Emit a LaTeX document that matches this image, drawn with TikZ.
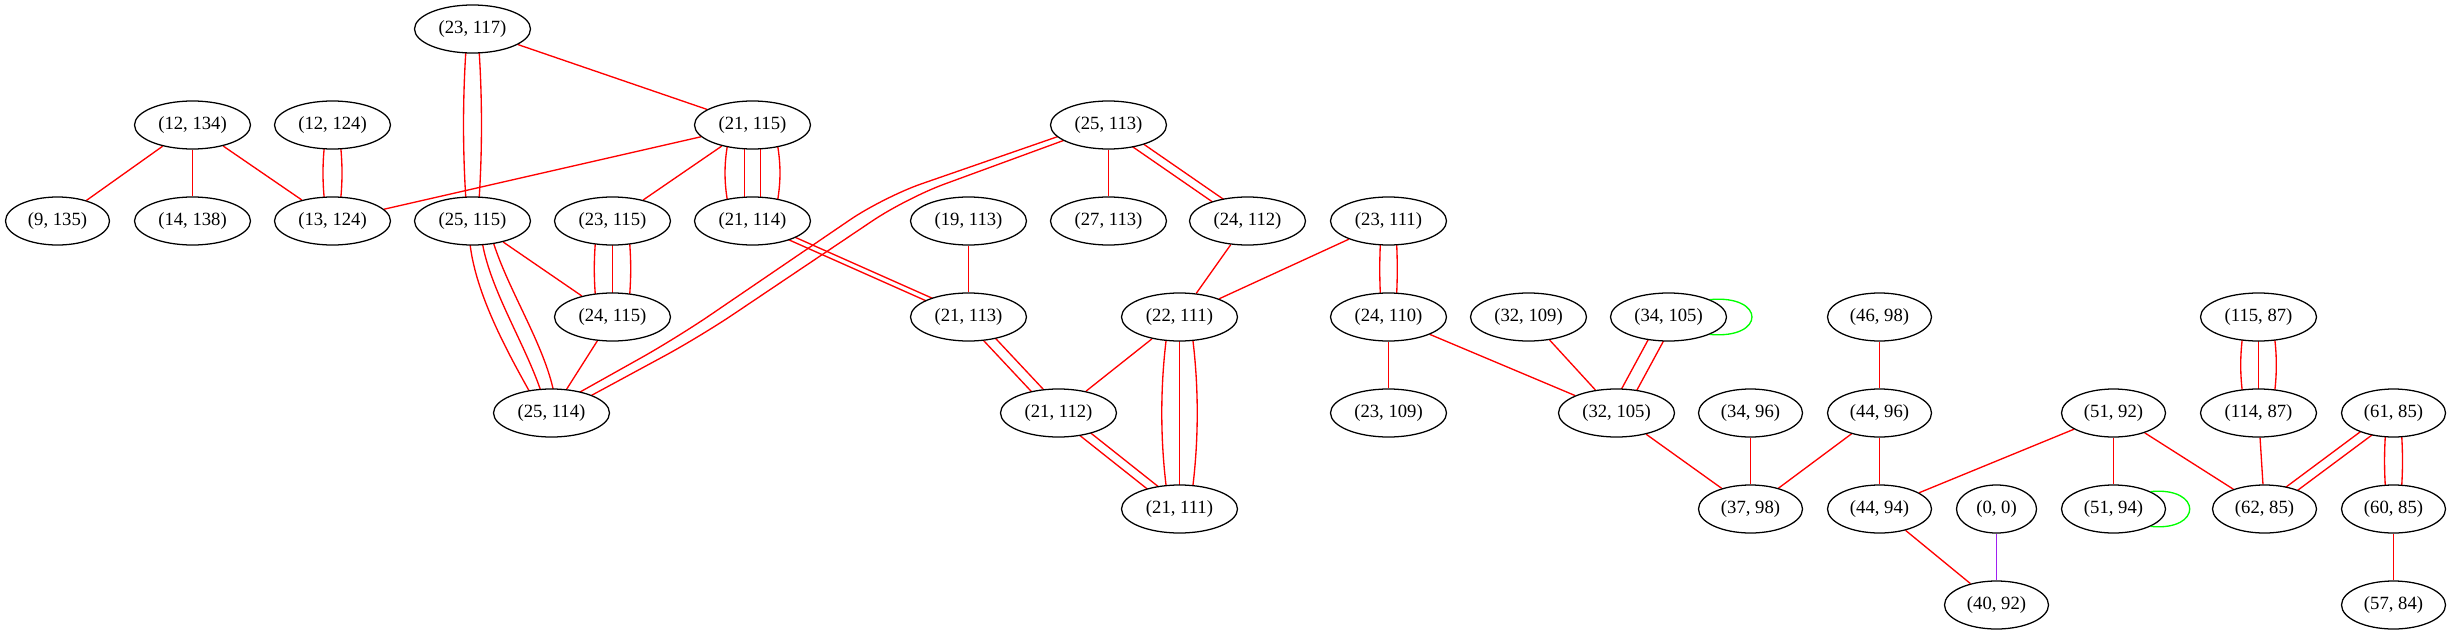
\documentclass[tikz,border=0pt]{standalone}
\usepackage{fontspec}
\setmainfont{Liberation Serif}
\usetikzlibrary{shapes.geometric,calc,backgrounds}
\definecolor{gvred}{RGB}{255,0,0}
\definecolor{gvgreen}{RGB}{0,255,0}
\definecolor{gvpurple}{RGB}{160,32,240}
\tikzset{
  gn/.style={ellipse, draw=black, fill=white, line width=0.95pt, inner sep=0pt,
    minimum height=36pt, minimum width=87pt, font=\fontsize{14pt}{16pt}\selectfont},
  gm/.style={gn, minimum width=78pt},
  gsm/.style={gn, minimum width=60pt},
  redge/.style={draw=gvred, line width=1pt},
  gedge/.style={draw=gvgreen, line width=1pt},
  pedge/.style={draw=gvpurple, line width=1pt},
}
\begin{document}
\begin{tikzpicture}[x=0.75pt,y=-0.75pt]
\useasboundingbox (0,0) rectangle (2451,635);
\begin{scope}[on background layer]
\fill[white] (0,0) rectangle (2451,635);
\end{scope}
\begin{scope}[shift={(0.5,0)}]
% row 1
\node[gn] (n23117) at (472,29) {(23, 117)};
% row 2
\node[gn] (n12134) at (192,125) {(12, 134)};
\node[gn] (n12124) at (332,125) {(12, 124)};
\node[gn] (n21115) at (752,125) {(21, 115)};
\node[gn] (n25113) at (1108,125) {(25, 113)};
% row 3
\node[gm] (n9135) at (57,221) {(9, 135)};
\node[gn] (n14138) at (192,221) {(14, 138)};
\node[gn] (n13124) at (332,221) {(13, 124)};
\node[gn] (n25115) at (472,221) {(25, 115)};
\node[gn] (n23115) at (612,221) {(23, 115)};
\node[gn] (n21114) at (752,221) {(21, 114)};
\node[gn] (n19113) at (968,221) {(19, 113)};
\node[gn] (n27113) at (1108,221) {(27, 113)};
\node[gn] (n24112) at (1247,221) {(24, 112)};
\node[gn] (n23111) at (1388,221) {(23, 111)};
% row 4
\node[gn] (n24115) at (612,317) {(24, 115)};
\node[gn] (n21113) at (968,317) {(21, 113)};
\node[gn] (n22111) at (1179,317) {(22, 111)};
\node[gn] (n24110) at (1388,317) {(24, 110)};
\node[gn] (n32109) at (1528,317) {(32, 109)};
\node[gn] (n34105) at (1668,317) {(34, 105)};
\node[gm] (n4698) at (1879,317) {(46, 98)};
\node[gn] (n11587) at (2258,317) {(115, 87)};
% row 5
\node[gn] (n25114) at (551,413) {(25, 114)};
\node[gn] (n21112) at (1058,413) {(21, 112)};
\node[gn] (n23109) at (1388,413) {(23, 109)};
\node[gn] (n32105) at (1616,413) {(32, 105)};
\node[gm] (n3496) at (1750,413) {(34, 96)};
\node[gm] (n4496) at (1879,413) {(44, 96)};
\node[gm] (n5192) at (2113,413) {(51, 92)};
\node[gn] (n11487) at (2258,413) {(114, 87)};
\node[gm] (n6185) at (2393,413) {(61, 85)};
% row 6
\node[gn] (n21111) at (1179,509) {(21, 111)};
\node[gm] (n3798) at (1750,509) {(37, 98)};
\node[gm] (n4494) at (1879,509) {(44, 94)};
\node[gsm] (n00) at (1996,509) {(0, 0)};
\node[gm] (n5194) at (2113,509) {(51, 94)};
\node[gm] (n6285) at (2264,509) {(62, 85)};
\node[gm] (n6085) at (2393,509) {(60, 85)};
% row 7
\node[gm] (n4092) at (1996,605) {(40, 92)};
\node[gm] (n5784) at (2393,605) {(57, 84)};

\begin{scope}[on background layer]
% single edges
\draw[redge] (n23117) -- (n21115);
\draw[redge] (n12134) -- (n9135);
\draw[redge] (n12134) -- (n14138);
\draw[redge] (n12134) -- (n13124);
\draw[redge] (n21115) -- (n13124);
\draw[redge] (n21115) -- (n23115);
\draw[redge] (n25115) -- (n24115);
\draw[redge] (n24115) -- (n25114);
\draw[redge] (n25113) -- (n27113);
\draw[redge] (n19113) -- (n21113);
\draw[redge] (n24112) -- (n22111);
\draw[redge] (n23111) -- (n22111);
\draw[redge] (n22111) -- (n21112);
\draw[redge] (n24110) -- (n23109);
\draw[redge] (n24110) -- (n32105);
\draw[redge] (n32109) -- (n32105);
\draw[redge] (n4698) -- (n4496);
\draw[redge] (n32105) -- (n3798);
\draw[redge] (n3496) -- (n3798);
\draw[redge] (n4496) -- (n3798);
\draw[redge] (n4496) -- (n4494);
\draw[redge] (n4494) -- (n4092);
\draw[pedge] (n00) -- (n4092);
\draw[redge] (n5192) -- (n4494);
\draw[redge] (n5192) -- (n5194);
\draw[redge] (n5192) -- (n6285);
\draw[redge] (n11487) -- (n6285);
\draw[redge] (n6085) -- (n5784);
% (23,117) -- (25,115) double
\draw[redge] ($(n23117)+(-6.5,20)$) .. controls +(-3.3,50) and +(-3.3,-50) .. ($(n25115)+(-6.5,-20)$);
\draw[redge] ($(n23117)+(6.5,20)$) .. controls +(3.3,50) and +(3.3,-50) .. ($(n25115)+(6.5,-20)$);
% (12,124) -- (13,124) double
\draw[redge] ($(n12124)+(-8,20)$) .. controls +(-2,19) and +(-2,-19) .. ($(n13124)+(-8,-20)$);
\draw[redge] ($(n12124)+(8,20)$) .. controls +(2,19) and +(2,-19) .. ($(n13124)+(8,-20)$);
% (21,115) -- (21,114) quadruple
\draw[redge] ($(n21115)+(-25,20)$) .. controls +(-3.3,19) and +(-3.3,-19) .. ($(n21114)+(-25,-20)$);
\draw[redge] ($(n21115)+(-8,20)$) -- ($(n21114)+(-8,-20)$);
\draw[redge] ($(n21115)+(8,20)$) -- ($(n21114)+(8,-20)$);
\draw[redge] ($(n21115)+(25,20)$) .. controls +(3.3,19) and +(3.3,-19) .. ($(n21114)+(25,-20)$);
% (23,115) -- (24,115) triple
\draw[redge] ($(n23115)+(-17,20)$) .. controls +(-1.6,19) and +(-1.6,-19) .. ($(n24115)+(-17,-20)$);
\draw[redge] ($(n23115)+(0,20)$) -- ($(n24115)+(0,-20)$);
\draw[redge] ($(n23115)+(17,20)$) .. controls +(1.6,19) and +(1.6,-19) .. ($(n24115)+(17,-20)$);
% (25,115) -- (25,114) triple
\draw[redge] ($(n25115)+(-2.7,21)$) .. controls +(5,48) and +(-27,-48) .. ($(n25114)+(-21.7,-21)$);
\draw[redge] ($(n25115)+(9.7,21)$) .. controls +(8,48) and +(-16,-48) .. ($(n25114)+(-10.3,-21)$);
\draw[redge] ($(n25115)+(20.7,21)$) .. controls +(15,48) and +(-10,-48) .. ($(n25114)+(2.3,-21)$);
% (25,113) -- (25,114) double long
\draw[redge, rounded corners=30pt] ($(n25113)+(0,-6)$) -- (883,197) -- (676,338) -- ($(n25114)+(0,-5)$);
\draw[redge, rounded corners=30pt] ($(n25113)+(0,-1)$) -- (906,198) -- (699,337) -- ($(n25114)+(0,4)$);
% (25,113) -- (24,112) double
\draw[redge] ($(n25113)+(-7.4,0)$) -- ($(n24112)+(-7.4,0)$);
\draw[redge] ($(n25113)+(7.4,0)$) -- ($(n24112)+(7.4,0)$);
% (21,114) -- (21,113) double
\draw[redge] ($(n21114)+(-6,0)$) -- ($(n21113)+(-6,0)$);
\draw[redge] ($(n21114)+(6,0)$) -- ($(n21113)+(6,0)$);
% (23,111) -- (24,110) double
\draw[redge] ($(n23111)+(-8,20)$) .. controls +(-1,19) and +(-1,-19) .. ($(n24110)+(-8,-20)$);
\draw[redge] ($(n23111)+(8,20)$) .. controls +(1,19) and +(1,-19) .. ($(n24110)+(8,-20)$);
% (21,113) -- (21,112) double
\draw[redge] ($(n21113)+(-7,0)$) -- ($(n21112)+(-7,0)$);
\draw[redge] ($(n21113)+(7,0)$) -- ($(n21112)+(7,0)$);
% (22,111) -- (21,111) triple
\draw[redge] ($(n22111)+(-13,20)$) .. controls +(-6.3,50) and +(-6.3,-50) .. ($(n21111)+(-13,-20)$);
\draw[redge] ($(n22111)+(0,20)$) -- ($(n21111)+(0,-20)$);
\draw[redge] ($(n22111)+(13,20)$) .. controls +(6.3,50) and +(6.3,-50) .. ($(n21111)+(13,-20)$);
% (21,112) -- (21,111) double
\draw[redge] ($(n21112)+(-7,0)$) -- ($(n21111)+(-7,0)$);
\draw[redge] ($(n21112)+(7,0)$) -- ($(n21111)+(7,0)$);
% (34,105) -- (32,105) double
\draw[redge] ($(n34105)+(-8,0)$) -- ($(n32105)+(-8,0)$);
\draw[redge] ($(n34105)+(8,0)$) -- ($(n32105)+(8,0)$);
% (115,87) -- (114,87) triple
\draw[redge] ($(n11587)+(-16,20)$) .. controls +(-2.4,19) and +(-2.4,-19) .. ($(n11487)+(-16,-20)$);
\draw[redge] ($(n11587)+(0,20)$) -- ($(n11487)+(0,-20)$);
\draw[redge] ($(n11587)+(16,20)$) .. controls +(2.4,19) and +(2.4,-19) .. ($(n11487)+(16,-20)$);
% (61,85) -- (62,85) double
\draw[redge] ($(n6185)+(-8,0)$) -- ($(n6285)+(-8,0)$);
\draw[redge] ($(n6185)+(8,0)$) -- ($(n6285)+(8,0)$);
% (61,85) -- (60,85) double
\draw[redge] ($(n6185)+(-8,20)$) .. controls +(-1.3,19) and +(-1.3,-19) .. ($(n6085)+(-8,-20)$);
\draw[redge] ($(n6185)+(8,20)$) .. controls +(1.3,19) and +(1.3,-19) .. ($(n6085)+(8,-20)$);
\end{scope}
% self loops
\draw[gedge] (n34105.north east) .. controls +(56,-5) and +(56,5) .. (n34105.south east);
\draw[gedge] (n5194.north east) .. controls +(52,-5) and +(52,5) .. (n5194.south east);
\end{scope}
\end{tikzpicture}
\end{document}
